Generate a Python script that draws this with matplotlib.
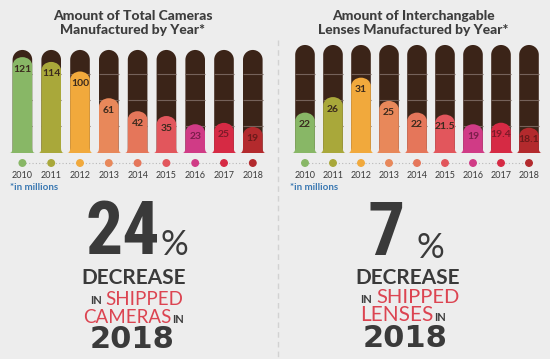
import matplotlib.pyplot as plt
import numpy as np
from matplotlib.path import Path
from matplotlib.patches import PathPatch

# =========================
# DATA
# =========================
years = ["2010", "2011", "2012", "2013", "2014", "2015", "2016", "2017", "2018"]
cameras = [121, 114, 100, 61, 42, 35, 23, 25, 19]
lenses = [22, 26, 31, 25, 22, 21.5, 19, 19.4, 18.1]
camera_labels = ["121", "114", "100", "61", "42", "35", "23", "25", "19"]
lens_labels = ["22", "26", "31", "25", "22", "21.5", "19", "19.4", "18.1"]

fill_colors = ["#88b766", "#a9a83a", "#f1a93c", "#e8885a", "#e5765a",
               "#e2565c", "#d03b86", "#d62a44", "#b32a2d"]
label_colors = ["#3b2a1d"] * 6 + ["#7a1d4a", "#7c1a28", "#6a1a1a"]
tube_color = "#3b2418"

W, H = 550, 359

fig = plt.figure(figsize=(W / 100, H / 100), dpi=100)
fig.patch.set_facecolor("#ededed")


def fx(px):
    return px / W


def fy(py):
    return 1 - py / H


# =========================
# SHAPES
# =========================
def tube_path(x, y0, y1, rx, ry, fw=0.0, fh=0.0):
    arc = Path.arc(0, 180)
    arc_v = arc.vertices * [rx, ry] + [x, y1 - ry]
    verts = []
    codes = []
    if fw > 0:
        verts += [(x + rx + fw, y0), (x + rx, y0), (x + rx, y0 + fh)]
        codes += [Path.MOVETO, Path.CURVE3, Path.CURVE3]
    else:
        verts += [(x + rx, y0)]
        codes += [Path.MOVETO]
    verts += [(x + rx, y1 - ry)]
    codes += [Path.LINETO]
    verts += list(map(tuple, arc_v[1:]))
    codes += list(arc.codes[1:])
    if fw > 0:
        verts += [(x - rx, y0 + fh), (x - rx, y0), (x - rx - fw, y0)]
        codes += [Path.LINETO, Path.CURVE3, Path.CURVE3]
    else:
        verts += [(x - rx, y0)]
        codes += [Path.LINETO]
    verts += [(0, 0)]
    codes += [Path.CLOSEPOLY]
    return Path(verts, codes)


def tube_chart(left_px, step_px, ylim, top_frac, values, labels):
    top_px, bottom_px = 40, 153
    n = len(values)
    ax = fig.add_axes([fx(left_px), fy(bottom_px), fx(step_px * n),
                       (bottom_px - top_px) / H])
    ax.set_xlim(-0.5, n - 0.5)
    ax.set_ylim(*ylim)
    ax.axis("off")

    ppx = step_px
    ppy = (bottom_px - top_px) / (ylim[1] - ylim[0])
    rx = 9.8 / ppx
    ry = 9.8 / ppy
    y0 = ylim[0]
    y_top = ylim[0] + top_frac * (ylim[1] - ylim[0])
    grid = [ylim[0] + f * (ylim[1] - ylim[0]) for f in (0.239, 0.469, 0.699)]

    xs = np.arange(n)
    for i in range(n):
        ax.add_patch(PathPatch(tube_path(xs[i], y0, y_top, rx, ry),
                               fc=tube_color, ec="none", zorder=1))
        ax.hlines(grid, xs[i] - rx, xs[i] + rx, color="#75625a", lw=0.8, zorder=2)
        ax.add_patch(PathPatch(tube_path(xs[i], y0, values[i], rx, ry * 0.85,
                                         fw=3 / ppx, fh=5 / ppy),
                               fc=fill_colors[i], ec="none", zorder=3))
        ax.text(xs[i], values[i] - 12 / ppy, labels[i], ha="center", va="center",
                fontsize=7.5, fontweight="bold", color=label_colors[i],
                family="Lato", zorder=4)

    # dots row + years
    tr = ax.get_xaxis_transform()
    dot_y = -10 / (bottom_px - top_px)
    year_y = -23 / (bottom_px - top_px)
    ax.plot(xs, [dot_y] * n, ls=(0, (1, 2)), color="#b8b8b8", lw=0.8,
            transform=tr, clip_on=False, zorder=1)
    ax.scatter(xs, [dot_y] * n, s=22, c=fill_colors, transform=tr,
               clip_on=False, zorder=2)
    for i in range(n):
        ax.text(xs[i], year_y, years[i], ha="center", va="center",
                fontsize=6.5, color="#3a3a3a", family="Lato", transform=tr)
    return ax


tube_chart(8, 28.8, (-19, 146), 0.912, cameras, camera_labels)
tube_chart(291, 28.0, (11.6, 40.7), 0.956, lenses, lens_labels)

# divider
fig.add_artist(plt.Line2D([fx(278), fx(278)], [fy(40), fy(358)], color="#d2d2d2",
                          lw=1, ls=(0, (4, 3))))

# =========================
# TEXT
# =========================
title_kw = dict(ha="center", va="center", fontsize=10, fontweight="black",
                color="#3d3d3d", family="Lato", linespacing=1.2)
fig.text(fx(133), fy(23), "Amount of Total Cameras\nManufactured by Year*", **title_kw)
fig.text(fx(413), fy(23), "Amount of Interchangable\nLenses Manufactured by Year*", **title_kw)

note_kw = dict(ha="left", va="center", fontsize=7, fontweight="bold",
               color="#3a78b2", family="Lato")
fig.text(fx(10), fy(187), "*in millions", **note_kw)
fig.text(fx(290), fy(187), "*in millions", **note_kw)

dark = "#3a3a3a"
red = "#dc4451"
big_kw = dict(va="baseline", fontsize=53, fontweight="bold", color=dark,
              family=["Roboto Condensed", "Roboto"])
pct_kw = dict(ha="left", va="baseline", fontsize=25, color=dark, family="Lato")
dec_kw = dict(ha="center", va="baseline", fontsize=15, fontweight="bold",
              color=dark, family="Lato")
red_kw = dict(va="baseline", color=red, family="Lato")
in_kw = dict(va="baseline", fontsize=8, color=dark, family="Lato", fontweight="bold")
yr_kw = dict(ha="center", va="baseline", fontsize=22, fontweight="bold",
             color=dark, family="DejaVu Sans")

# left block
fig.text(fx(85), fy(254), "24", ha="left", **big_kw)
fig.text(fx(160), fy(255), "%", **pct_kw)
fig.text(fx(134), fy(284), "DECREASE", **dec_kw)
fig.text(fx(90), fy(304), "IN", ha="left", **in_kw)
fig.text(fx(105), fy(305), "SHIPPED", ha="left", fontsize=13.5, **red_kw)
fig.text(fx(83), fy(323), "CAMERAS", ha="left", fontsize=13.5, **red_kw)
fig.text(fx(172), fy(323), "IN", ha="left", **in_kw)
fig.text(fx(132), fy(348), "2018", **yr_kw)

# right block
fig.text(fx(386), fy(255), "7", ha="center", **big_kw)
fig.text(fx(417), fy(258), "%", **pct_kw)
fig.text(fx(408), fy(284), "DECREASE", **dec_kw)
fig.text(fx(360), fy(303), "IN", ha="left", **in_kw)
fig.text(fx(376), fy(303), "SHIPPED", ha="left", fontsize=14.5, **red_kw)
fig.text(fx(360), fy(321), "LENSES", ha="left", fontsize=15, **red_kw)
fig.text(fx(434), fy(321), "IN", ha="left", **in_kw)
fig.text(fx(405), fy(347), "2018", **yr_kw)

fig.savefig("out.png", dpi=100, facecolor=fig.get_facecolor())
